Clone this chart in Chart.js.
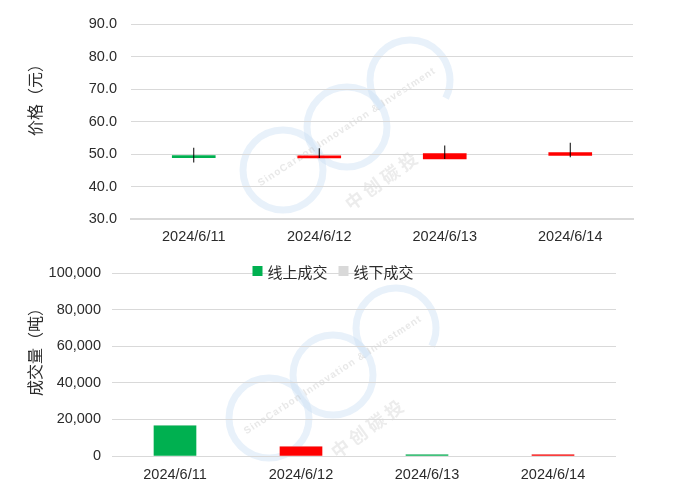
<!DOCTYPE html>
<html>
<head>
<meta charset="utf-8">
<script src="https://cdn.jsdelivr.net/npm/chart.js@4.4.1/dist/chart.umd.min.js"></script>
<style>
  body { margin: 0; background: #fff; }
  #wrap { width: 679px; height: 496px; }
  canvas { display: block; }
</style>
</head>
<body>
<div id="wrap">
  <canvas id="price" width="679" height="248"></canvas>
  <canvas id="volume" width="679" height="248"></canvas>
</div>
<script>
// data
const dates = ["2024/6/11", "2024/6/12", "2024/6/13", "2024/6/14"];
const openPrice  = [49.0, 48.8, 48.5, 49.6];
const closePrice = [48.9, 49.2, 50.1, 50.4];
const highPrice  = [51.9, 51.8, 52.6, 53.5];
const lowPrice   = [47.4, 48.8, 48.5, 49.0];
const onlineVolume  = [16500, 5000, 700, 600];
const offlineVolume = [0, 0, 0, 0];
const volumeRise = [false, true, false, true];

const priceMin = 30, priceMax = 90, priceStep = 10;
const volMin = 0, volMax = 100000, volStep = 20000;

const GREEN = '#00B050', RED = '#FF0000', GREY = '#D9D9D9';
const tickFont = { family: "'Liberation Sans', sans-serif", size: 14.5 };
const cjkFont = "'Noto Sans CJK SC', sans-serif";

Chart.defaults.color = '#2b2b2b';
Chart.defaults.animation = false;

// faint company watermark behind the plot
const watermark = {
  id: 'watermark',
  beforeDraw(chart, args, opts) {
    const ctx = chart.ctx;
    const cx = opts.cx, cy = opts.cy;
    ctx.save();
    ctx.strokeStyle = 'rgba(205,225,243,0.45)';
    ctx.lineWidth = 7;
    ctx.beginPath(); ctx.arc(cx - 64, cy + 43, 40, 0, Math.PI * 2); ctx.stroke();
    ctx.beginPath(); ctx.arc(cx, cy, 40, 0, Math.PI * 2); ctx.stroke();
    ctx.beginPath(); ctx.arc(cx + 63, cy - 47, 40, Math.PI * 0.75, Math.PI * 2.15); ctx.stroke();

    ctx.translate(cx, cy);
    ctx.rotate(-33 * Math.PI / 180);
    ctx.font = 'bold 10px "Liberation Sans", sans-serif';
    ctx.letterSpacing = '1px';
    ctx.textAlign = 'center';
    ctx.textBaseline = 'middle';
    ctx.fillStyle = 'rgba(190,190,190,0.35)';
    ctx.fillText('SinoCarbon Innovation & Investment', 0, 0);
    ctx.restore();

    ctx.save();
    ctx.translate(cx + 34, cy + 54);
    ctx.rotate(-36 * Math.PI / 180);
    ctx.font = 'bold 18px ' + cjkFont;
    ctx.textAlign = 'center';
    ctx.textBaseline = 'middle';
    ctx.fillStyle = 'rgba(200,200,200,0.35)';
    ctx.fillText('中 创 碳 投', 0, 0);
    ctx.restore();
  }
};

// rotated y title, placed by hand like the original
const sideTitle = {
  id: 'sideTitle',
  afterDraw(chart, args, opts) {
    const ctx = chart.ctx;
    ctx.save();
    ctx.translate(opts.x, opts.y);
    ctx.rotate(-Math.PI / 2);
    ctx.font = '16px ' + cjkFont;
    ctx.fillStyle = '#2b2b2b';
    ctx.textAlign = 'center';
    ctx.textBaseline = 'middle';
    ctx.fillText(opts.text, 0, 0);
    ctx.restore();
  }
};

// legend sitting on the top grid line
const areaLegend = {
  id: 'areaLegend',
  afterDraw(chart, args, opts) {
    const ctx = chart.ctx;
    ctx.save();
    ctx.font = '15px ' + cjkFont;
    ctx.textBaseline = 'middle';
    const box = 10, gap = 5, itemGap = 11;
    const items = chart.data.datasets.map(d => ({ text: d.label, color: d.legendColor }));
    let total = 0;
    items.forEach(it => { it.w = box + gap + ctx.measureText(it.text).width; total += it.w; });
    total += itemGap * (items.length - 1);
    let x = opts.centerX - total / 2;
    const y = chart.chartArea.top + opts.dy;
    items.forEach(it => {
      ctx.fillStyle = it.color;
      ctx.fillRect(x, y - box / 2, box, box);
      ctx.fillStyle = '#2b2b2b';
      ctx.fillText(it.text, x + box + gap, y + 1);
      x += it.w + itemGap;
    });
    ctx.restore();
  }
};

new Chart(document.getElementById('price'), {
  type: 'bar',
  data: {
    labels: dates,
    datasets: [
      {
        label: 'wick',
        data: dates.map((d, i) => [lowPrice[i], highPrice[i]]),
        backgroundColor: '#000',
        barThickness: 1,
        inflateAmount: 0,
        grouped: false,
        order: 0
      },
      {
        label: 'body',
        data: dates.map((d, i) => [openPrice[i], closePrice[i]]),
        backgroundColor: dates.map((d, i) => closePrice[i] >= openPrice[i] ? RED : GREEN),
        barThickness: 43,
        minBarLength: 2,
        grouped: false,
        order: 1
      }
    ]
  },
  options: {
    responsive: false,
    layout: { padding: { top: 24, right: 46, left: 0, bottom: 0 } },
    plugins: {
      legend: { display: false },
      tooltip: { enabled: false },
      sideTitle: { text: '价格（元）', x: 35, y: 96 },
      watermark: { cx: 347, cy: 127 }
    },
    scales: {
      x: {
        grid: { display: false, drawTicks: false },
        border: { color: '#D9D9D9', width: 2 },
        ticks: { font: tickFont, padding: 9 },
        afterFit: s => { s.height = 29; }
      },
      y: {
        min: priceMin, max: priceMax,
        grid: { color: '#D9D9D9', drawTicks: false },
        border: { display: false },
        ticks: { stepSize: priceStep, font: tickFont, padding: 14, callback: v => v.toFixed(1) },
        afterFit: s => { s.width = 131; }
      }
    }
  },
  plugins: [watermark, sideTitle]
});

new Chart(document.getElementById('volume'), {
  type: 'bar',
  data: {
    labels: dates,
    datasets: [
      {
        label: '线上成交',
        data: onlineVolume,
        backgroundColor: volumeRise.map(r => r ? RED : GREEN),
        legendColor: GREEN,
        barThickness: 42
      },
      {
        label: '线下成交',
        data: offlineVolume,
        backgroundColor: GREY,
        legendColor: GREY,
        barThickness: 42
      }
    ]
  },
  options: {
    responsive: false,
    layout: { padding: { top: 25, right: 63, left: 0, bottom: 0 } },
    plugins: {
      legend: { display: false },
      tooltip: { enabled: false },
      sideTitle: { text: '成交量（吨）', x: 35, y: 100 },
      areaLegend: { centerX: 333, dy: -2 },
      watermark: { cx: 333, cy: 127 }
    },
    scales: {
      x: {
        stacked: true,
        grid: { display: false, drawTicks: false },
        border: { display: false },
        ticks: { font: tickFont, padding: 10 },
        afterFit: s => { s.height = 40; }
      },
      y: {
        stacked: true,
        min: volMin, max: volMax,
        grid: { color: '#D9D9D9', drawTicks: false },
        border: { display: false },
        ticks: { stepSize: volStep, font: tickFont, padding: 11, callback: v => v.toLocaleString('en-US') },
        afterFit: s => { s.width = 112; }
      }
    }
  },
  plugins: [watermark, sideTitle, areaLegend]
});
</script>
</body>
</html>
